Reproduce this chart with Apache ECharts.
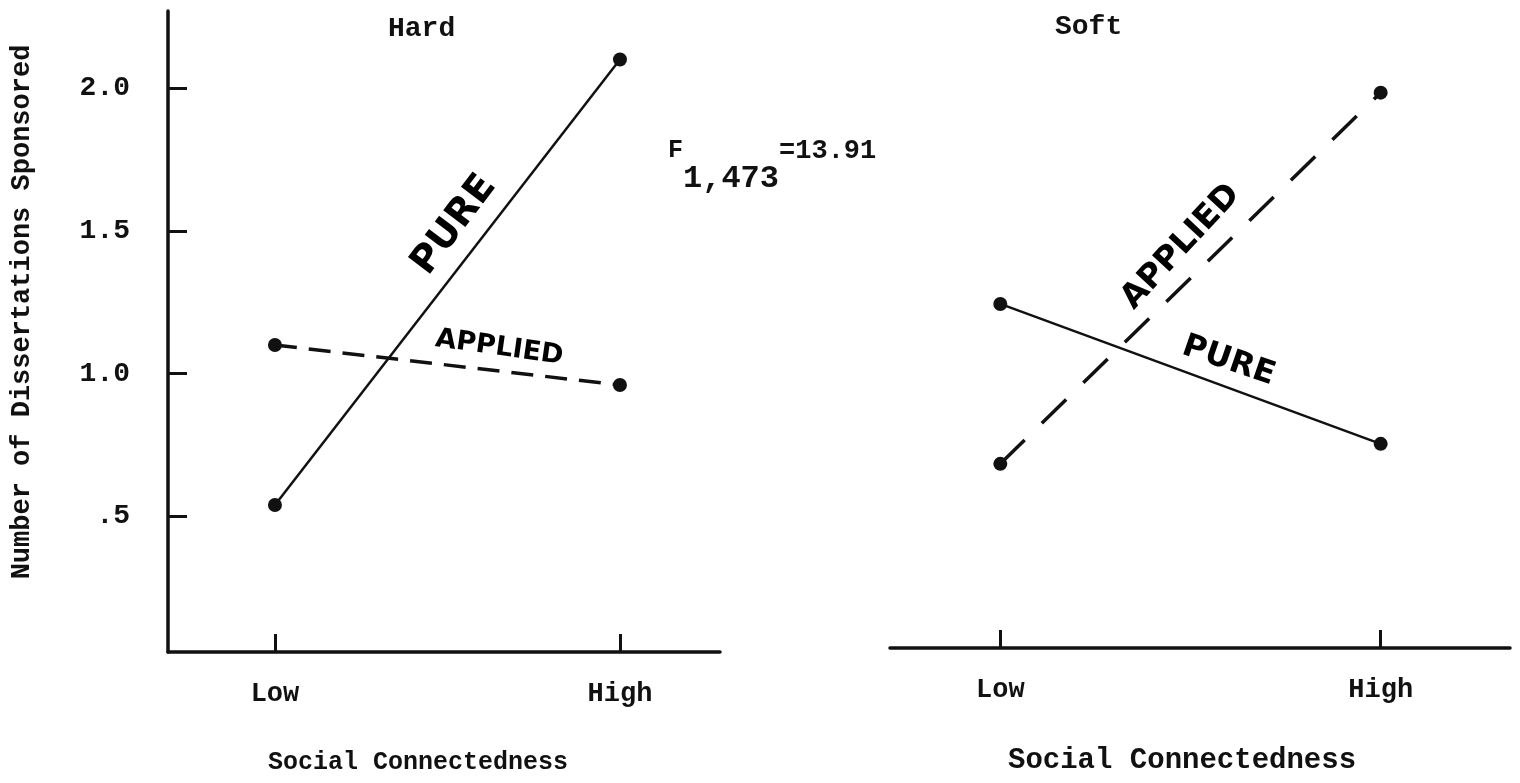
<!DOCTYPE html>
<html>
<head>
<meta charset="utf-8">
<script src="https://cdn.jsdelivr.net/npm/echarts@6/dist/echarts.min.js"></script>
<style>
  html, body { margin: 0; background: #fff; }
  #chart { width: 1520px; height: 783px; }
</style>
</head>
<body>
<div id="chart"></div>
<script>
const levels = ['Low', 'High'];
const yTicks = [0.5, 1.0, 1.5, 2.0];
const hardPure = [0.54, 2.1];
const hardApplied = [1.1, 0.96];
const softPure = [1.23, 0.74];
const softApplied = [0.67, 1.97];
const panels = ['Hard', 'Soft'];
const xTitle = 'Social Connectedness';
const yTitle = 'Number of Dissertations Sponsored';

const mono = 'Liberation Mono';
const hand = 'DejaVu Sans';
const ink = '#111';

const toPoints = (vals) => levels.map((_, i) => [i, vals[i]]);

// hand-lettered line labels, placed in data space of each panel
const note = (text, x, y, rotate, size) => ({
    value: [x, y],
    label: { formatter: text, rotate: rotate, fontSize: size }
});

const chart = echarts.init(document.getElementById('chart'));

const xAxisBase = {
    type: 'value',
    axisLine: { onZero: false, lineStyle: { color: ink, width: 3.5 } },
    axisTick: { inside: true, length: 18, customValues: [0, 1], lineStyle: { color: ink, width: 3 } },
    axisLabel: {
        customValues: [0, 1],
        formatter: (v) => levels[Math.round(v)],
        color: ink, fontFamily: mono, fontWeight: 'bold', fontSize: 27, margin: 29
    },
    splitLine: { show: false }
};

const yAxisBase = {
    type: 'value',
    min: 0.025,
    max: 2.27,
    splitLine: { show: false }
};

const lineSeries = (xi, data, dash) => ({
    type: 'line',
    xAxisIndex: xi,
    yAxisIndex: xi,
    data: toPoints(data),
    symbol: 'circle',
    symbolSize: 14,
    silent: true,
    itemStyle: { color: ink },
    lineStyle: { color: ink, width: dash ? 3.5 : 2.5, type: dash || 'solid' }
});

const noteSeries = (xi, items) => ({
    type: 'scatter',
    xAxisIndex: xi,
    yAxisIndex: xi,
    symbolSize: 0,
    silent: true,
    itemStyle: { opacity: 1 },
    label: { show: true, position: 'inside', color: '#000', fontFamily: hand, fontWeight: 'bold', textBorderWidth: 0 },
    data: items
});

const option = {
    backgroundColor: '#fff',
    animation: false,
    grid: [
        { left: 168, width: 552, top: 11, height: 641 },
        { left: 890, width: 620, top: 7, height: 641 }
    ],
    xAxis: [
        Object.assign({}, xAxisBase, { gridIndex: 0, min: -0.31, max: 1.29 }),
        Object.assign({}, xAxisBase, { gridIndex: 1, min: -0.29, max: 1.34 })
    ],
    yAxis: [
        Object.assign({}, yAxisBase, {
            gridIndex: 0,
            axisLine: { show: true, onZero: false, lineStyle: { color: ink, width: 3.5 } },
            axisTick: { inside: true, length: 19, customValues: yTicks, lineStyle: { color: ink, width: 3 } },
            axisLabel: {
                customValues: yTicks,
                formatter: (v) => (v < 1 ? String(v).replace(/^0/, '') : v.toFixed(1)),
                color: ink, fontFamily: mono, fontWeight: 'bold', fontSize: 28, margin: 38
            }
        }),
        Object.assign({}, yAxisBase, { gridIndex: 1, show: false })
    ],
    graphic: [
        { type: 'text', left: 388, top: 15, style: { text: panels[0], font: `bold 28px "${mono}"`, fill: ink } },
        { type: 'text', left: 1055, top: 13, style: { text: panels[1], font: `bold 28px "${mono}"`, fill: ink } },
        {
            type: 'text', left: 268, top: 750,
            style: { text: xTitle, font: `bold 25px "${mono}"`, fill: ink }
        },
        {
            type: 'text', left: 1008, top: 746,
            style: { text: xTitle, font: `bold 29px "${mono}"`, fill: ink }
        },
        {
            type: 'text', x: 22, y: 312, rotation: Math.PI / 2,
            style: { text: yTitle, font: `bold 27px "${mono}"`, fill: ink, align: 'center', verticalAlign: 'middle' }
        },
        {
            type: 'text', left: 668, top: 138,
            style: {
                text: '{f|F}{s|1,473}{v|=13.91}',
                rich: {
                    f: { font: `bold 25px "${mono}"`, fill: ink, verticalAlign: 'top' },
                    s: { font: `bold 32px "${mono}"`, fill: ink, padding: [25, 0, 0, 0] },
                    v: { font: `bold 27px "${mono}"`, fill: ink, verticalAlign: 'top' }
                }
            }
        }
    ],
    series: [
        lineSeries(0, hardPure),
        lineSeries(0, hardApplied, [22, 12]),
        lineSeries(1, softPure),
        lineSeries(1, softApplied, [34, 24]),
        noteSeries(0, [
            note('PURE', 0.52, 1.52, 53, 38),
            note('APPLIED', 0.65, 1.09, -8, 27)
        ]),
        noteSeries(1, [
            note('APPLIED', 0.475, 1.43, 47, 33),
            note('PURE', 0.6, 1.03, -19, 32)
        ])
    ]
};

chart.setOption(option);
</script>
</body>
</html>
